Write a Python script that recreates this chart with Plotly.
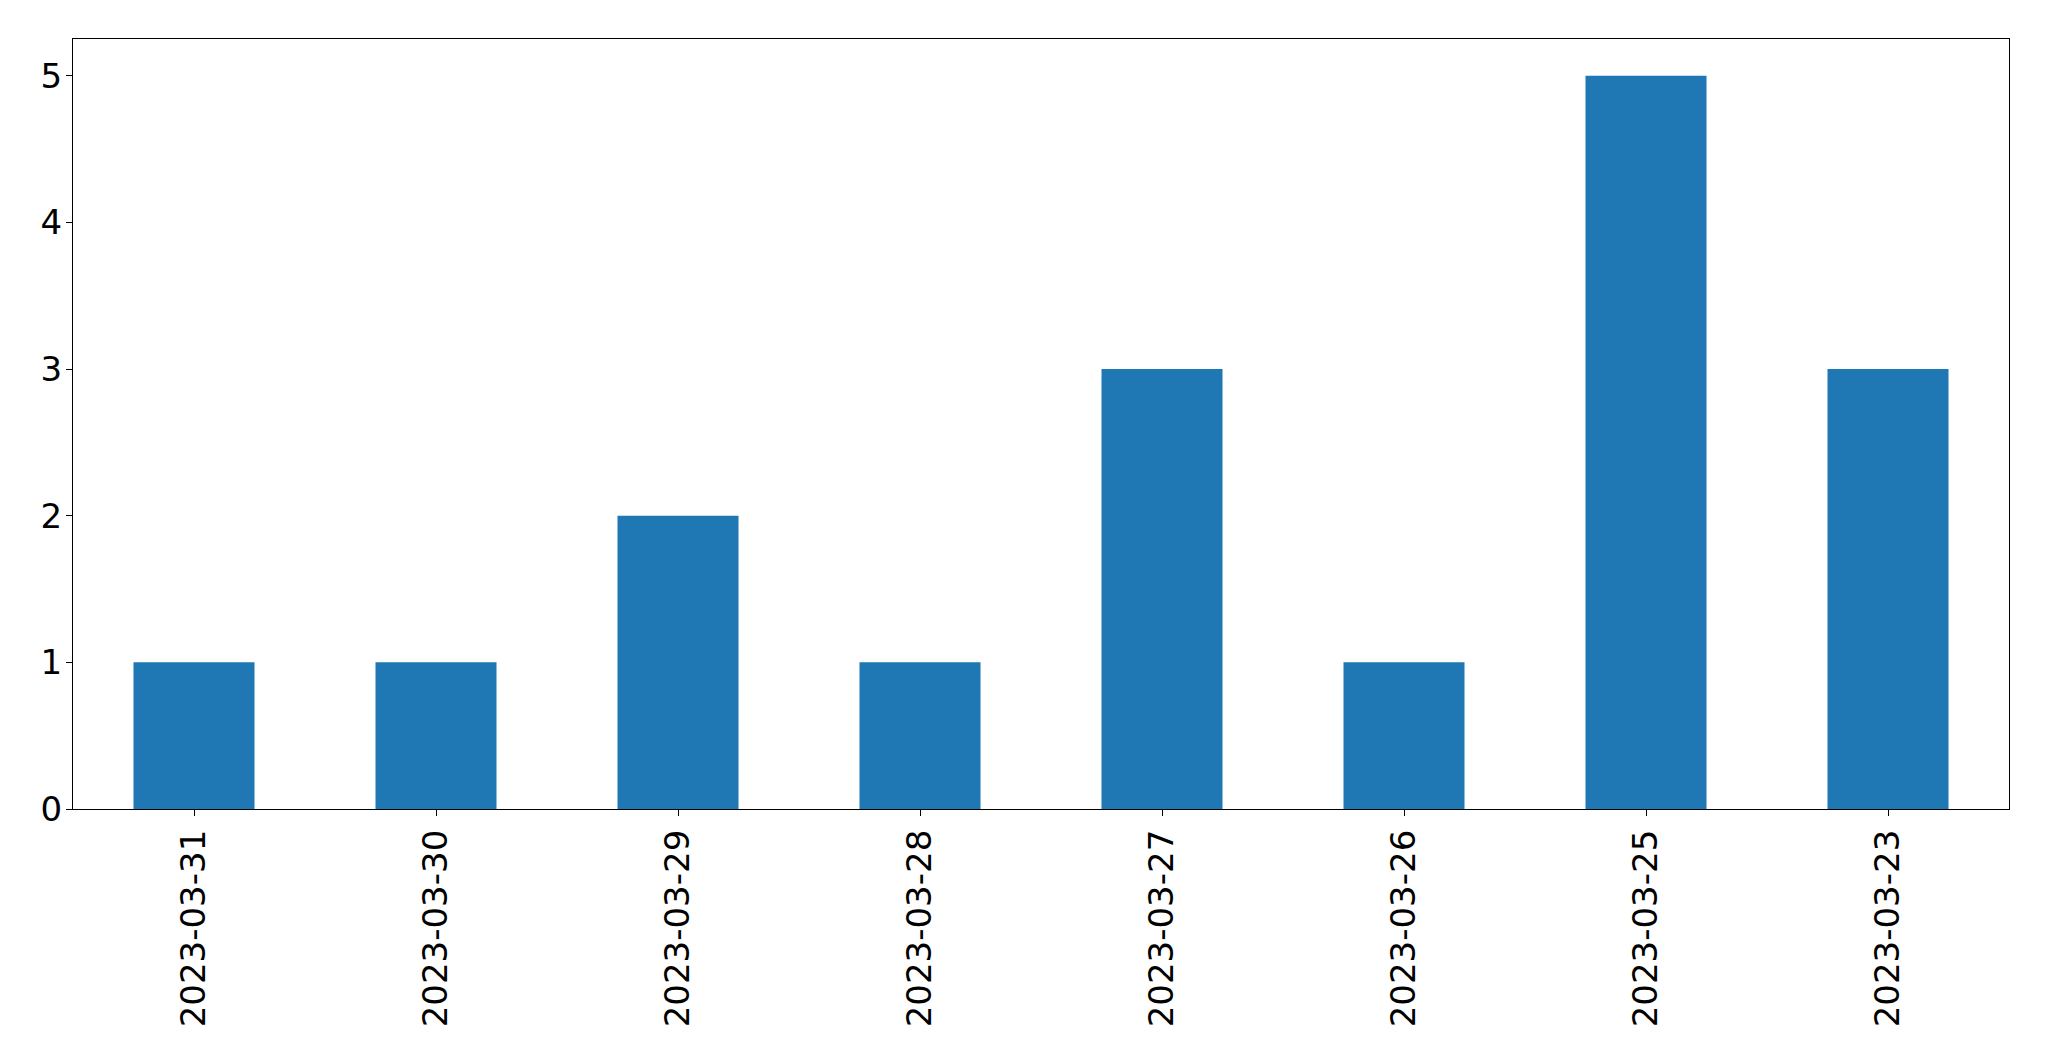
import plotly.graph_objects as go

dates = ["2023-03-31", "2023-03-30", "2023-03-29", "2023-03-28",
         "2023-03-27", "2023-03-26", "2023-03-25", "2023-03-23"]
counts = [1, 1, 2, 1, 3, 1, 5, 3]
y_ticks = [0, 1, 2, 3, 4, 5]

fig = go.Figure(go.Bar(x=dates, y=counts, marker_color="#1f77b4",
                       marker_line_width=0, width=0.5))

axis_common = dict(showline=True, linecolor="black", linewidth=1.3, mirror=True,
                   ticks="outside", ticklen=6, tickwidth=1.3, tickcolor="black",
                   showgrid=False, zeroline=False, automargin=False,
                   tickfont=dict(family="DejaVu Sans", size=34, color="black"))

fig.update_layout(
    width=2049, height=1061,
    margin=dict(l=64.5, r=48, t=31, b=260, pad=0),
    plot_bgcolor="white", paper_bgcolor="white",
    showlegend=False, bargap=0.5,
    xaxis=dict(type="category", range=[-0.5, 7.5], tickangle=-90, **axis_common),
    yaxis=dict(range=[0, 5.25], tickvals=y_ticks, ticklabelstandoff=-3, **axis_common),
)

fig.write_html("out.html")
